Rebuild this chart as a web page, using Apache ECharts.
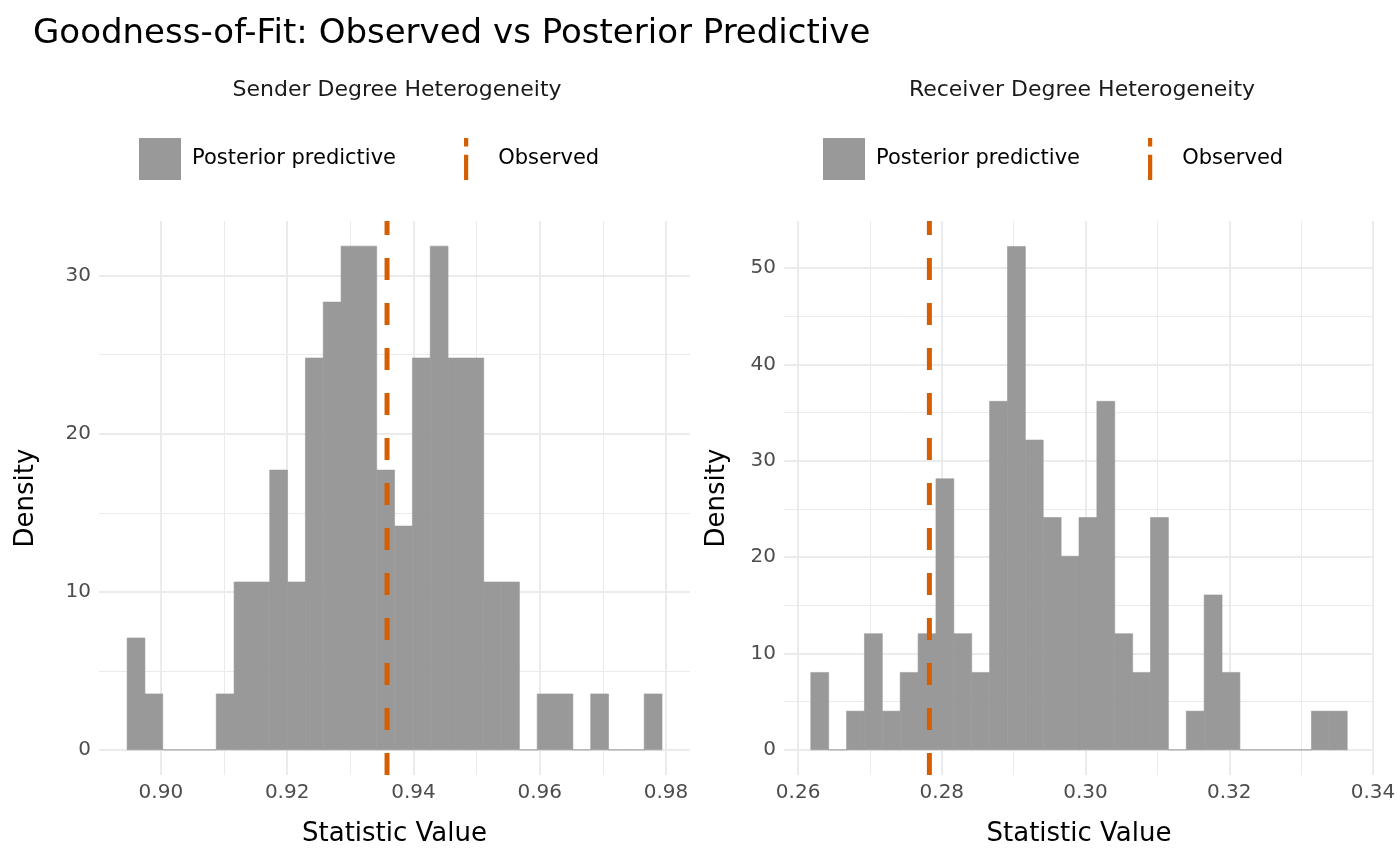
<!DOCTYPE html>
<html><head><meta charset="utf-8">
<script src="https://cdn.jsdelivr.net/npm/echarts@6/dist/echarts.min.js"></script>
<style>html,body{margin:0;padding:0;background:#fff}#c{width:1400px;height:866px}</style>
</head><body><div id="c"></div>
<script>
// Sender panel
const senderStart = 0.89465, senderWidth = 0.002824;
const senderDensity = [7.08,3.54,0,0,0,3.54,10.62,10.62,17.7,10.62,24.79,28.33,31.87,31.87,17.7,14.16,24.79,31.87,24.79,24.79,10.62,10.62,0,3.54,3.54,0,3.54,0,0,3.54];
const senderObserved = 0.93582;
// Receiver panel
const receiverStart = 0.26177, receiverWidth = 0.002488;
const receiverDensity = [8.04,0,4.02,12.06,4.02,8.04,12.06,28.14,12.06,8.04,36.18,52.26,32.16,24.12,20.1,24.12,36.18,12.06,8.04,24.12,0,4.02,16.08,8.04,0,0,0,0,4.02,4.02];
const receiverObserved = 0.27827;
const panelTitles = ['Sender Degree Heterogeneity','Receiver Degree Heterogeneity'];

function bins(start,w,d){return d.map((v,i)=>[start+i*w,start+(i+1)*w,v]);}
const F='DejaVu Sans';
const grids=[{left:99,right:710,top:221,bottom:91},{left:784,right:26,top:221,bottom:91}];
function xAx(i,min,max){return {type:'value',gridIndex:i,min:min,max:max,splitNumber:4,
 name:'Statistic Value',nameLocation:'middle',nameGap:46,nameTextStyle:{fontFamily:F,fontSize:26,color:'#000'},
 axisLine:{show:false},axisTick:{show:false},
 axisLabel:{fontFamily:F,fontSize:20,color:'#4d4d4d',showMinLabel:false,showMaxLabel:false,margin:8,formatter:v=>v.toFixed(2)},
 splitLine:{show:true,showMinLine:false,showMaxLine:false,lineStyle:{color:'#ebebeb',width:2}},
 minorTick:{show:false,splitNumber:2},minorSplitLine:{show:true,lineStyle:{color:'#ebebeb',width:1}}};}
function yAx(i,min,max){return {type:'value',gridIndex:i,min:min,max:max,
 name:'Density',nameLocation:'middle',nameGap:i===0?60:54,nameTextStyle:{fontFamily:F,fontSize:26,color:'#000'},
 axisLine:{show:false},axisTick:{show:false},
 axisLabel:{fontFamily:F,fontSize:20,color:'#4d4d4d',showMinLabel:false,showMaxLabel:false,margin:8},
 splitLine:{show:true,showMinLine:false,showMaxLine:false,lineStyle:{color:'#ebebeb',width:2}},
 minorTick:{show:false,splitNumber:2},minorSplitLine:{show:true,lineStyle:{color:'#ebebeb',width:1}}};}
function hist(i,data){return {type:'custom',name:'Posterior predictive',xAxisIndex:i,yAxisIndex:i,data:data,
 itemStyle:{color:'#999999'},
 renderItem:(p,api)=>{const a=api.coord([api.value(0),0]),b=api.coord([api.value(1),api.value(2)]);
  return {type:'rect',shape:{x:a[0],y:b[1],width:b[0]-a[0],height:a[1]-b[1]},style:{fill:'#999999',stroke:'#999999',lineWidth:0.6}};},
 encode:{x:[0,1],y:2}};}
function obs(i,x,ymin,ymax){return {type:'line',name:'Observed',xAxisIndex:i,yAxisIndex:i,data:[[x,ymin],[x,ymax]],
 symbol:'none',color:'#d55e00',lineStyle:{color:'#d55e00',width:5,type:[22,23]},z:5};}
const obsIcon='path://M0,0 L1,0 L1,2 L0,2 Z M0,4 L1,4 L1,10 L0,10 Z';
function leg(left){return {left:left,top:133,itemGap:68,itemWidth:42,itemHeight:42,
 textStyle:{fontFamily:F,fontSize:21,color:'#000',padding:[0,0,0,6]},
 data:[{name:'Posterior predictive',icon:'rect',itemStyle:{color:'#999999'}},
  {name:'Observed',icon:obsIcon,itemStyle:{color:'#d55e00'}}],selectedMode:false};}
const chart=echarts.init(document.getElementById('c'),null,{renderer:'canvas'});
chart.setOption({
 backgroundColor:'#fff',animation:false,
 title:[{text:'Goodness-of-Fit: Observed vs Posterior Predictive',left:28,top:12,textStyle:{fontFamily:F,fontSize:34,fontWeight:'normal',color:'#000'}},
  {text:panelTitles[0],left:392,textAlign:'center',top:74,textStyle:{fontFamily:F,fontSize:22,fontWeight:'normal',color:'#1a1a1a'}},
  {text:panelTitles[1],left:1077,textAlign:'center',top:74,textStyle:{fontFamily:F,fontSize:22,fontWeight:'normal',color:'#1a1a1a'}}],
 legend:[leg(134),leg(818)],
 grid:grids,
 xAxis:[xAx(0,0.8902,0.9838),xAx(1,0.25804,0.34014)],
 yAxis:[yAx(0,-1.59,33.46),yAx(1,-2.61,54.9)],
 series:[hist(0,bins(senderStart,senderWidth,senderDensity)),obs(0,senderObserved,-1.59,33.46),
  hist(1,bins(receiverStart,receiverWidth,receiverDensity)),obs(1,receiverObserved,-2.61,54.9)]
});
</script></body></html>
